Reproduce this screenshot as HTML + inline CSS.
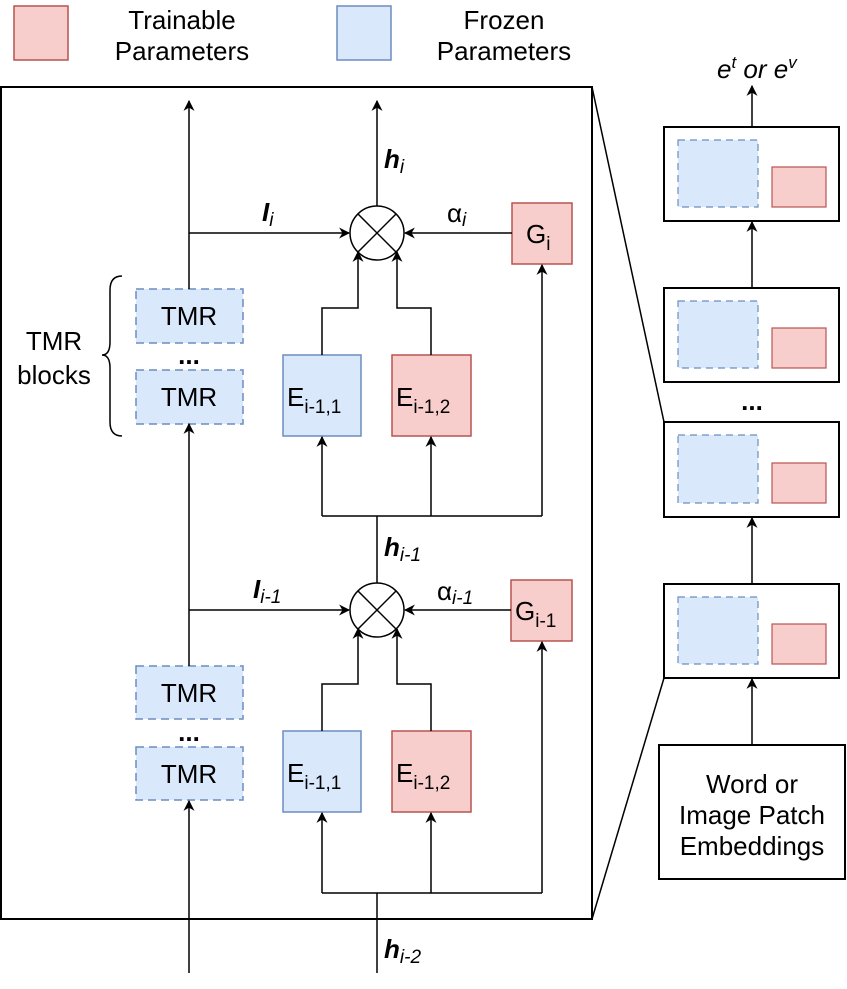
<!DOCTYPE html>
<html><head><meta charset="utf-8"><style>
html,body{margin:0;padding:0;background:#fff}
svg{display:block}
text{font-family:"Liberation Sans",sans-serif;fill:#000}
</style></head><body>
<svg width="847" height="989" viewBox="0 0 847 989" xmlns="http://www.w3.org/2000/svg">
<defs>
<marker id="a" viewBox="0 0 10 10" refX="9" refY="5" markerWidth="11" markerHeight="11" markerUnits="userSpaceOnUse" orient="auto">
<path d="M0,0 L10,5 L0,10 L3,5 z" fill="#000"/></marker>
</defs>
<g fill="none" stroke="#000" stroke-width="1.5">
<rect x="14" y="6" width="54" height="54" fill="#f8cecc" stroke="#b85450"/>
<rect x="337" y="6" width="54" height="54" fill="#dae8fc" stroke="#6c8ebf"/>
<rect x="1" y="87" width="591" height="832" stroke-width="2"/>
<line x1="592" y1="87" x2="664" y2="422"/>
<line x1="592" y1="919" x2="664" y2="678"/>
<rect x="136" y="289" width="107" height="54" fill="#dae8fc" stroke="#6c8ebf" stroke-dasharray="8,5"/>
<rect x="136" y="370" width="107" height="54" fill="#dae8fc" stroke="#6c8ebf" stroke-dasharray="8,5"/>
<path d="M122,276 Q110,276 110,290 L110,342 Q110,355 102,355 Q110,355 110,368 L110,422 Q110,436 122,436"/>
<line x1="189" y1="289" x2="189" y2="101" marker-end="url(#a)"/>
<line x1="189" y1="233" x2="349" y2="233" marker-end="url(#a)"/>
<circle cx="377" cy="233" r="27"/>
<line x1="358" y1="214" x2="396" y2="252"/><line x1="396" y1="214" x2="358" y2="252"/>
<line x1="377" y1="206" x2="377" y2="101" marker-end="url(#a)"/>
<rect x="512" y="203" width="60" height="61" fill="#f8cecc" stroke="#b85450"/>
<line x1="512" y1="233" x2="405" y2="233" marker-end="url(#a)"/>
<rect x="283" y="355" width="78" height="81" fill="#dae8fc" stroke="#6c8ebf"/>
<rect x="392" y="355" width="79" height="81" fill="#f8cecc" stroke="#b85450"/>
<polyline points="322,355 322,308 358,308 358,252" marker-end="url(#a)"/>
<polyline points="431,355 431,308 397,308 397,252" marker-end="url(#a)"/>
<polyline points="322,516 542,516"/>
<line x1="322" y1="516" x2="322" y2="437" marker-end="url(#a)"/>
<line x1="431" y1="516" x2="431" y2="437" marker-end="url(#a)"/>
<line x1="542" y1="516" x2="542" y2="265" marker-end="url(#a)"/>
<line x1="377" y1="583" x2="377" y2="516"/>
<rect x="136" y="666" width="107" height="53" fill="#dae8fc" stroke="#6c8ebf" stroke-dasharray="8,5"/>
<rect x="136" y="747" width="107" height="53" fill="#dae8fc" stroke="#6c8ebf" stroke-dasharray="8,5"/>
<line x1="189" y1="666" x2="189" y2="424" marker-end="url(#a)"/>
<line x1="189" y1="610" x2="349" y2="610" marker-end="url(#a)"/>
<line x1="189" y1="973" x2="189" y2="801" marker-end="url(#a)"/>
<circle cx="377" cy="610" r="27"/>
<line x1="358" y1="591" x2="396" y2="629"/><line x1="396" y1="591" x2="358" y2="629"/>
<rect x="511" y="580" width="61" height="61" fill="#f8cecc" stroke="#b85450"/>
<line x1="511" y1="610" x2="405" y2="610" marker-end="url(#a)"/>
<rect x="283" y="731" width="78" height="81" fill="#dae8fc" stroke="#6c8ebf"/>
<rect x="392" y="731" width="79" height="81" fill="#f8cecc" stroke="#b85450"/>
<polyline points="322,731 322,684 358,684 358,629" marker-end="url(#a)"/>
<polyline points="431,731 431,684 397,684 397,629" marker-end="url(#a)"/>
<polyline points="322,893 542,893"/>
<line x1="322" y1="893" x2="322" y2="813" marker-end="url(#a)"/>
<line x1="431" y1="893" x2="431" y2="813" marker-end="url(#a)"/>
<line x1="542" y1="893" x2="542" y2="642" marker-end="url(#a)"/>
<line x1="377" y1="973" x2="377" y2="893"/>
<rect x="664" y="127" width="175" height="94" stroke-width="2"/>
<rect x="664" y="288" width="175" height="94" stroke-width="2"/>
<rect x="664" y="422" width="175" height="95" stroke-width="2"/>
<rect x="664" y="584" width="175" height="94" stroke-width="2"/>
<rect x="659" y="745" width="186" height="134" stroke-width="2"/>
<line x1="752" y1="127" x2="752" y2="86" marker-end="url(#a)"/>
<line x1="752" y1="288" x2="752" y2="222" marker-end="url(#a)"/>
<line x1="752" y1="584" x2="752" y2="518" marker-end="url(#a)"/>
<line x1="752" y1="745" x2="752" y2="679" marker-end="url(#a)"/>
<g stroke-width="1.2">
<rect x="678" y="140" width="80" height="67" fill="#dae8fc" stroke="#6c8ebf" stroke-dasharray="7,5"/>
<rect x="772" y="167" width="54" height="40" fill="#f8cecc" stroke="#b85450"/>
<rect x="678" y="301" width="80" height="67" fill="#dae8fc" stroke="#6c8ebf" stroke-dasharray="7,5"/>
<rect x="772" y="328" width="54" height="40" fill="#f8cecc" stroke="#b85450"/>
<rect x="678" y="435" width="80" height="68" fill="#dae8fc" stroke="#6c8ebf" stroke-dasharray="7,5"/>
<rect x="772" y="463" width="54" height="40" fill="#f8cecc" stroke="#b85450"/>
<rect x="678" y="597" width="80" height="67" fill="#dae8fc" stroke="#6c8ebf" stroke-dasharray="7,5"/>
<rect x="772" y="624" width="54" height="40" fill="#f8cecc" stroke="#b85450"/>
</g>
</g>
<g style="font-size:26px" text-anchor="middle">
<text x="182" y="29">Trainable</text>
<text x="182" y="60">Parameters</text>
<text x="504" y="29">Frozen</text>
<text x="504" y="60">Parameters</text>
<text x="189" y="325">TMR</text>
<text x="189" y="406">TMR</text>
<text x="189" y="702">TMR</text>
<text x="189" y="783">TMR</text>
<text x="54" y="350">TMR</text>
<text x="54" y="384">blocks</text>
<text x="752" y="793">Word or</text>
<text x="752" y="824">Image Patch</text>
<text x="752" y="855">Embeddings</text>
</g>
<g style="font-size:26px;font-weight:bold" text-anchor="middle">
<text x="189" y="364">...</text>
<text x="189" y="741">...</text>
<text x="752" y="410">...</text>
</g>
<g style="font-size:26px">
<text x="287" y="406">E<tspan style="font-size:19px" dy="7">i-1,1</tspan></text>
<text x="396" y="406">E<tspan style="font-size:19px" dy="7">i-1,2</tspan></text>
<text x="287" y="782">E<tspan style="font-size:19px" dy="7">i-1,1</tspan></text>
<text x="396" y="782">E<tspan style="font-size:19px" dy="7">i-1,2</tspan></text>
<text x="526" y="243">G<tspan style="font-size:19px" dy="7">i</tspan></text>
<text x="515" y="620">G<tspan style="font-size:19px" dy="7">i-1</tspan></text>
<text x="447" y="222">α<tspan style="font-size:19px;font-style:italic" dy="4">i</tspan></text>
<text x="437" y="600">α<tspan style="font-size:19px;font-style:italic" dy="4">i-1</tspan></text>
<text x="384" y="168" style="font-weight:bold;font-style:italic">h<tspan style="font-size:19px;font-weight:normal" dy="5">i</tspan></text>
<text x="384" y="556" style="font-weight:bold;font-style:italic">h<tspan style="font-size:19px;font-weight:normal" dy="5">i-1</tspan></text>
<text x="384" y="958" style="font-weight:bold;font-style:italic">h<tspan style="font-size:19px;font-weight:normal" dy="5">i-2</tspan></text>
<text x="262" y="221" style="font-weight:bold;font-style:italic">I<tspan style="font-size:19px;font-weight:normal" dy="5">i</tspan></text>
<text x="253" y="598" style="font-weight:bold;font-style:italic">I<tspan style="font-size:19px;font-weight:normal" dy="5">i-1</tspan></text>
<text x="717" y="78" style="font-style:italic">e<tspan style="font-size:17px" dy="-10">t</tspan><tspan dy="10">  or e</tspan><tspan style="font-size:17px" dy="-10">v</tspan></text>
</g>
</svg>
</body></html>
